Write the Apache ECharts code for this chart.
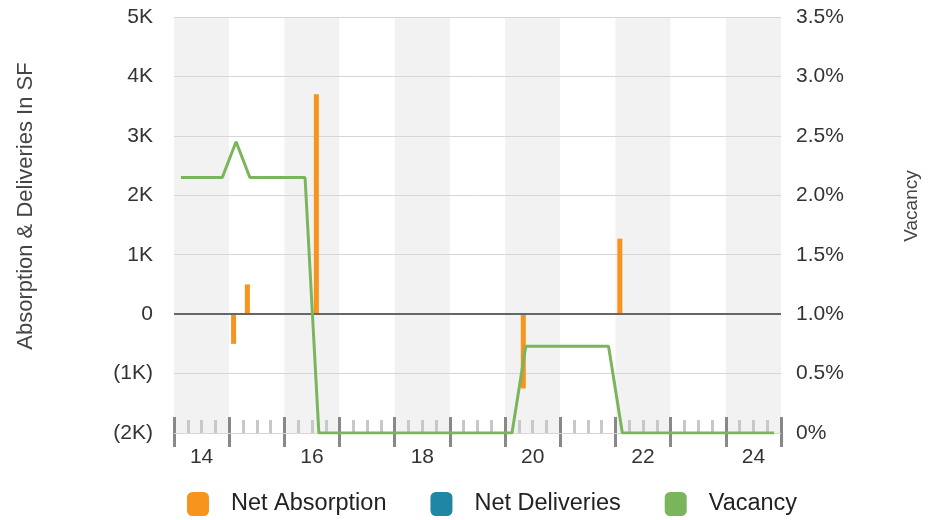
<!DOCTYPE html>
<html>
<head>
<meta charset="utf-8">
<script src="https://cdn.jsdelivr.net/npm/echarts@6/dist/echarts.min.js"></script>
<style>
  html, body { margin: 0; padding: 0; background: #fff; }
  #chart { width: 936px; height: 520px; }
</style>
</head>
<body>
<div id="chart"></div>
<script>
// quarterly categories 2014 Q1 .. 2024 Q4
var years = ["14", "15", "16", "17", "18", "19", "20", "21", "22", "23", "24"];
var quarters = [];
years.forEach(function (y) {
  ["Q1", "Q2", "Q3", "Q4"].forEach(function (q) { quarters.push(y + " " + q); });
});

var netAbsorption = [
  0, 0, 0, 0,        // 2014
  -500, 500, 0, 0,   // 2015
  0, 0, 3700, 0,     // 2016
  0, 0, 0, 0,        // 2017
  0, 0, 0, 0,        // 2018
  0, 0, 0, 0,        // 2019
  0, -1250, 0, 0,    // 2020
  0, 0, 0, 0,        // 2021
  1270, 0, 0, 0,     // 2022
  0, 0, 0, 0,        // 2023
  0, 0, 0, 0         // 2024
];
var netDeliveries = [
  0, 0, 0, 0,
  0, 0, 0, 0,
  0, 0, 0, 0,
  0, 0, 0, 0,
  0, 0, 0, 0,
  0, 0, 0, 0,
  0, 0, 0, 0,
  0, 0, 0, 0,
  0, 0, 0, 0,
  0, 0, 0, 0,
  0, 0, 0, 0
];
var vacancy = [
  2.15, 2.15, 2.15, 2.15,
  2.45, 2.15, 2.15, 2.15,
  2.15, 2.15, 0, 0,
  0, 0, 0, 0,
  0, 0, 0, 0,
  0, 0, 0, 0,
  0, 0.73, 0.73, 0.73,
  0.73, 0.73, 0.73, 0.73,
  0, 0, 0, 0,
  0, 0, 0, 0,
  0, 0, 0, 0
];

var FONT = "Liberation Sans";
var chart = echarts.init(document.getElementById("chart"));

chart.setOption({
  animation: false,
  textStyle: { fontFamily: FONT },
  grid: { left: 174, right: 155, top: 17, bottom: 87 },
  legend: {
    left: 182,
    top: 487,
    itemWidth: 22,
    itemHeight: 24,
    itemGap: 44,
    icon: "roundRect",
    textStyle: { fontSize: 23.5, color: "#222", padding: [0, 0, 0, 17], fontFamily: FONT },
    data: ["Net Absorption", "Net Deliveries", "Vacancy"]
  },
  xAxis: [
    {
      // quarter axis: light minor ticks
      type: "category",
      data: quarters,
      position: "bottom",
      boundaryGap: true,
      z: 0,
      axisLine: { onZero: false, lineStyle: { color: "#d0d0d0", width: 1 } },
      axisTick: { show: true, inside: true, length: 13, interval: 0, lineStyle: { color: "#c8c8c8", width: 3 } },
      axisLabel: { show: false },
      splitLine: { show: false }
    },
    {
      // year axis: bands, labels, outer major ticks
      type: "category",
      data: years,
      position: "bottom",
      boundaryGap: true,
      z: 0,
      axisLine: { show: false, onZero: false },
      axisTick: { show: true, interval: 0, length: 14, lineStyle: { color: "#888", width: 3 } },
      axisLabel: { interval: 1, fontSize: 21, color: "#333", margin: 14, fontFamily: FONT },
      splitArea: { show: true, interval: 0, areaStyle: { color: ["#f2f2f2", "#ffffff"] } },
      splitLine: { show: false }
    },
    {
      // year axis: inner major ticks
      type: "category",
      data: years,
      position: "bottom",
      boundaryGap: true,
      z: 3,
      axisLine: { show: false, onZero: false },
      axisTick: { show: true, inside: true, interval: 0, length: 16, lineStyle: { color: "#888", width: 3 } },
      axisLabel: { show: false },
      splitLine: { show: false }
    }
  ],
  yAxis: [
    {
      type: "value",
      min: -2000,
      max: 5000,
      interval: 1000,
      z: 1,
      name: "Absorption & Deliveries In SF",
      nameLocation: "middle",
      nameGap: 137,
      nameTextStyle: { fontSize: 22, color: "#444", fontFamily: FONT, padding: [0, 0, 0, 38] },
      axisLine: { show: false },
      axisTick: { show: false },
      axisLabel: {
        fontSize: 21,
        color: "#333",
        margin: 21,
        fontFamily: FONT,
        formatter: function (v) {
          if (v === 0) return "0";
          if (v < 0) return "(" + (-v / 1000) + "K)";
          return v / 1000 + "K";
        }
      },
      splitLine: { lineStyle: { color: "#d6d6d6", width: 1 } }
    },
    {
      type: "value",
      min: 0,
      max: 3.5,
      interval: 0.5,
      position: "right",
      z: 1,
      name: "Vacancy",
      nameLocation: "middle",
      nameGap: 121,
      nameRotate: 90,
      nameTextStyle: { fontSize: 19, color: "#444", fontFamily: FONT, padding: [0, 0, 0, 38] },
      axisLine: { show: false },
      axisTick: { show: false },
      axisLabel: {
        fontSize: 21,
        color: "#333",
        margin: 15,
        fontFamily: FONT,
        formatter: function (v) { return v === 0 ? "0%" : v.toFixed(1) + "%"; }
      },
      splitLine: { show: false }
    }
  ],
  series: [
    {
      name: "Net Absorption",
      type: "bar",
      xAxisIndex: 0,
      yAxisIndex: 0,
      data: netAbsorption,
      barWidth: 5,
      barGap: "0%",
      itemStyle: { color: "#f7941d" },
      markLine: {
        silent: true,
        symbol: "none",
        label: { show: false },
        lineStyle: { color: "#666", width: 2, type: "solid" },
        data: [{ yAxis: 0 }]
      }
    },
    {
      name: "Net Deliveries",
      type: "bar",
      xAxisIndex: 0,
      yAxisIndex: 0,
      data: netDeliveries,
      barWidth: 5,
      barGap: "0%",
      itemStyle: { color: "#2086a5" }
    },
    {
      name: "Vacancy",
      type: "line",
      xAxisIndex: 0,
      yAxisIndex: 1,
      data: vacancy,
      showSymbol: false,
      symbol: "none",
      lineStyle: { color: "#7ab55c", width: 3 },
      itemStyle: { color: "#7ab55c" },
      z: 5
    }
  ]
});
</script>
</body>
</html>
